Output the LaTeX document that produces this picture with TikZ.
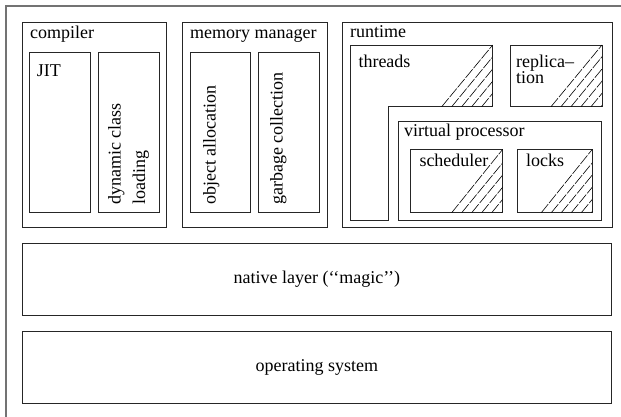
\documentclass[tikz,border=0pt]{standalone}
\usepackage{fontspec}
\setmainfont{Liberation Serif}
\usetikzlibrary{calc}
\def\layerbox(#1)(#2,#3)(#4,#5)#6{\node[box, minimum width={(#4-#2)*1pt}, minimum height={(#5-#3)*1pt}] (#1) at ({(#2+#4)/2},{(#3+#5)/2}) {#6};}
\def\hatchcorner(#1)(#2){\begin{scope}
		\clip ($(#1)+(-51,0)$) -- (#1) -- (#2) -- cycle;
		\foreach \k in {10,20,...,50} \draw[hatch] ($(#1)+(\k-51,0)$) -- ++(60,-73);
	\end{scope}
	\draw[hatch] ($(#1)+(-51,0)$) -- (#2);}
\tikzset{
	box/.style={draw=black!85, line width=0.9pt, inner sep=0pt, outer sep=0pt},
	boxtitle/.style={anchor=base west, inner sep=0pt},
	sidetitle/.style={rotate=90, anchor=north west, inner sep=0pt, align=left},
	hatch/.style={line width=0.6pt, dash pattern=on 11pt off 1.5pt},
	outerframe/.style={draw=black!55, line width=1.4pt}
}

\begin{document}
\begin{tikzpicture}[x=1pt, y=-1pt, font=\fontsize{18}{20.5}\selectfont]
		%%%%% START %%%%%
		\useasboundingbox (0,0) rectangle (621,416);
		\draw[outerframe] (6,6) rectangle (700,500);
		
		% compiler
		\layerbox(compiler)(22.7,22.7)(166.7,227.7){}
		\node[boxtitle] (compilert) at (30,38.3) {compiler};
		\layerbox(jit)(29.3,52.3)(90.7,212.7){}
		\node[boxtitle] (jitt) at (36.7,76) {JIT};
		\layerbox(dcl)(98.3,52.3)(159.3,212.7){}
		\node[sidetitle] (dclt) at (108,205) {dynamic class\\[4pt]loading};
		
		% memory manager
		\layerbox(memory)(182.3,22.7)(327.3,227.7){}
		\node[boxtitle] (memoryt) at (190,38.3) {memory manager};
		\layerbox(alloc)(190,52.3)(250.7,212.7){}
		\node[sidetitle] (alloct) at (203,205) {object allocation};
		\layerbox(gc)(258.3,52.3)(319.3,212.7){}
		\node[sidetitle] (gct) at (270,205) {garbage collection};
		
		% runtime
		\layerbox(runtime)(342.7,22.7)(612.7,227.3){}
		\node[boxtitle] (runtimet) at (350,37.7) {runtime};
		\coordinate (thr-ne) at (492.7,45);
		\coordinate (thr-se) at (492.7,106.7);
		\draw[box] (350,45) -- (thr-ne) -- (thr-se) -- (388.3,106.7) -- (388.3,220) -- (350,220) -- cycle;
		\hatchcorner(thr-se)(thr-ne)
		\node[boxtitle] (threadst) at (358.3,67) {threads};
		\layerbox(repl)(510.7,45)(602,106.7){}
		\hatchcorner(repl.south east)(repl.north east)
		\node[boxtitle, align=left, anchor=north west] (replt) at (516,54.5) {replica--\\[-4pt]tion};
		
		\layerbox(vp)(398.3,121.7)(601.7,220){}
		\node[boxtitle] (vpt) at (404,136.7) {virtual processor};
		\layerbox(sched)(410.7,149.3)(502.7,212.7){}
		\hatchcorner(sched.south east)(sched.north east)
		\node[boxtitle] (schedt) at (419.3,166.7) {scheduler};
		\layerbox(locks)(517.7,149.3)(592.3,212.7){}
		\hatchcorner(locks.south east)(locks.north east)
		\node[boxtitle] (lockst) at (526,166.7) {locks};
		
		% lower layers
		\layerbox(native)(22,243.3)(611.7,315.7){native layer (`{}`magic'{}')}
		\layerbox(os)(22,331.7)(611.7,403.3){operating system}
		%%%%% END %%%%%
	\end{tikzpicture}
\end{document}
